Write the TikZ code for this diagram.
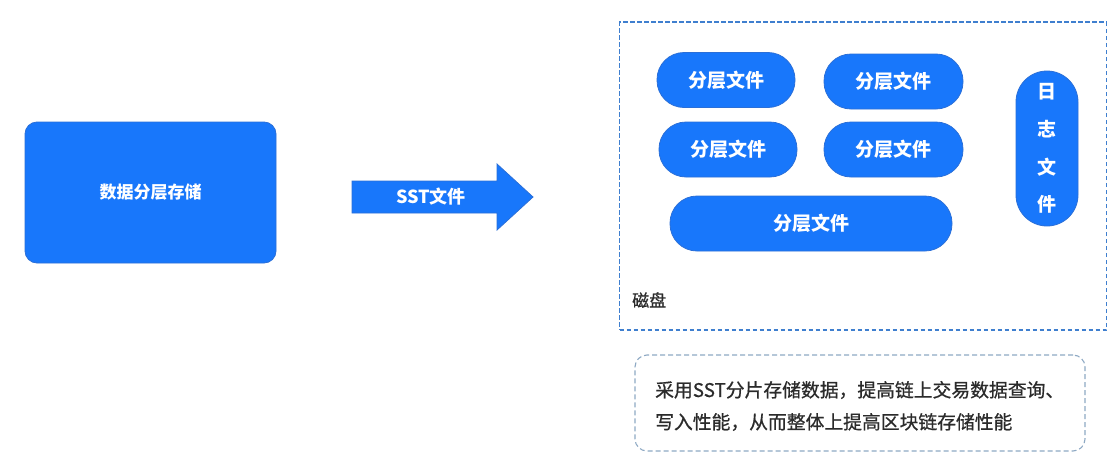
\documentclass[tikz,border=0pt]{standalone}
\usepackage{fontspec}
\setmainfont{Noto Sans CJK SC}
\newfontfamily\medfont{Noto Sans CJK SC}[FakeBold=0.7]
\definecolor{bblue}{HTML}{1877FB}
\definecolor{bedge}{HTML}{2A6FD8}
\definecolor{dashblue}{HTML}{3F7FCF}
\definecolor{notedash}{HTML}{8EA9C4}
\definecolor{darktext}{HTML}{2B2B2B}
\begin{document}
\begin{tikzpicture}[x=1pt,y=-1pt,
  blk/.style={fill=bblue, draw=bedge, line width=0.8pt, text=white,
    font=\fontsize{17}{20}\selectfont\bfseries, inner sep=0pt},
  pill/.style={blk, rounded corners=27pt, minimum height=55pt,
    font=\fontsize{19}{22}\selectfont\bfseries},
  dashbox/.style={draw=dashblue, line width=1.8pt, dash pattern=on 4.5pt off 2.5pt, inner sep=0pt},
]
\useasboundingbox[fill=white] (0,0) rectangle (1114,466);

% left storage block
\node[blk, rounded corners=12pt, minimum width=251pt, minimum height=141pt] (store) at (150.5,192.5) {数据分层存储};

% big arrow
\draw[fill=bblue, draw=bedge, line width=0.8pt]
  (352,181) -- (497,181) -- (497,164) -- (533,197) -- (497,230) -- (497,213) -- (352,213) -- cycle;
\node[text=white, font=\fontsize{18}{20}\selectfont\bfseries, inner sep=0pt] (sst) at (431,197) {SST文件};

% disk container
\node[dashbox, minimum width=487pt, minimum height=308pt] (disk) at (863,176) {};
\node[text=darktext, font=\fontsize{17}{20}\medfont, inner sep=0pt, anchor=west] (disklbl) at (632,300) {磁盘};

% layered files
\node[pill, minimum width=138pt] (p1) at (726,80) {分层文件};
\node[pill, minimum width=139pt] (p2) at (893.5,81.5) {分层文件};
\node[pill, minimum width=138pt] (p3) at (728,149.5) {分层文件};
\node[pill, minimum width=139pt] (p4) at (893.5,149.5) {分层文件};
\node[pill, minimum width=282pt] (p5) at (811,223.5) {分层文件};

% log file
\node[blk, rounded corners=31pt, minimum width=62pt, minimum height=155pt,
  font=\fontsize{19}{37.7}\selectfont\bfseries, align=center] (log) at (1047,148.5) {日\\志\\文\\件};

% note box
\node[draw=notedash, line width=1.1pt, dash pattern=on 5pt off 3pt, rounded corners=12pt,
  minimum width=450pt, minimum height=96pt, inner sep=0pt] (note) at (860,403) {};
\node[text=darktext, font=\fontsize{18.8}{32}\medfont, align=left, inner sep=0pt, anchor=west] (notetext) at (655,406)
  {采用SST分片存储数据，提高链上交易数据查询、\\写入性能，从而整体上提高区块链存储性能};
\end{tikzpicture}
\end{document}
